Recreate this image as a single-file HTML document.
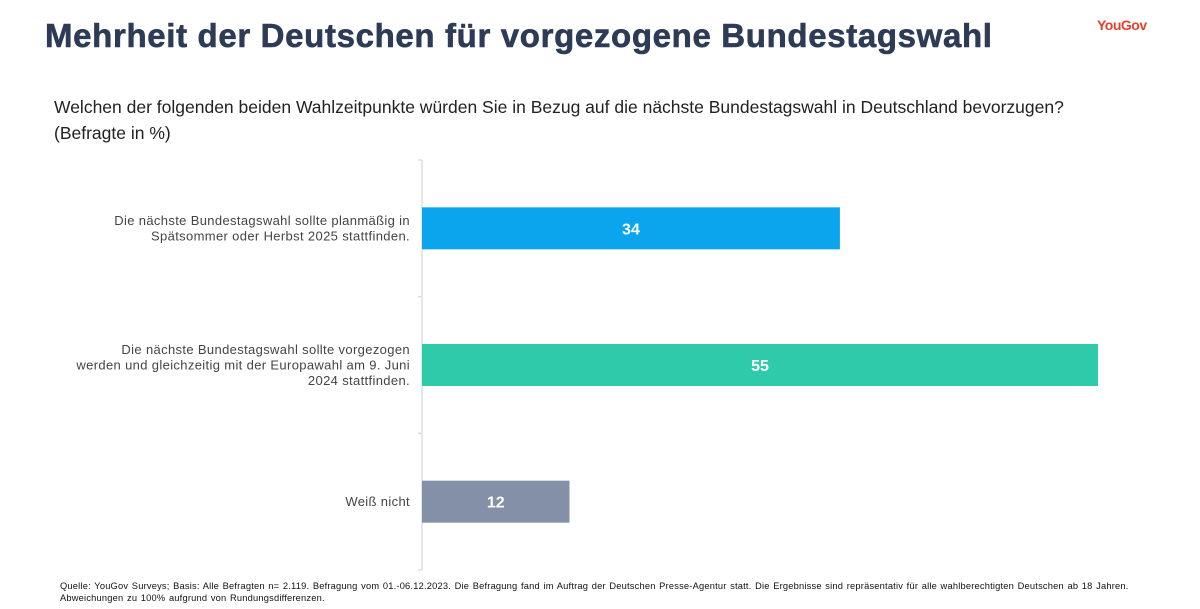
<!DOCTYPE html>
<html><head><meta charset="utf-8"><style>
body{margin:0;background:#fff;width:1200px;height:609px;overflow:hidden;font-family:"Liberation Sans",sans-serif;}
.t{position:absolute;white-space:nowrap;}
</style></head><body>
<div style="position:relative;width:1200px;height:609px">
<div class="t" style="left:45px;top:17px;font-size:33px;font-weight:bold;color:#2e3b56;letter-spacing:0.65px;-webkit-text-stroke:0.6px #2e3b56">Mehrheit der Deutschen für vorgezogene Bundestagswahl</div>
<div class="t" style="left:1097px;top:17px;font-size:14px;font-weight:bold;color:#e7402b;letter-spacing:-0.5px">YouGov</div>
<div class="t" style="left:54px;top:94px;font-size:17.5px;color:#222;line-height:26px">Welchen der folgenden beiden Wahlzeitpunkte würden Sie in Bezug auf die nächste Bundestagswahl in Deutschland bevorzugen?<br>(Befragte in %)</div>
<svg id="chart" class="t" style="left:0;top:0" width="1200" height="609"></svg>
<div class="t" style="left:60px;top:580px;font-size:9.3px;color:#111;line-height:12px;letter-spacing:0.2px;word-spacing:0.8px">Quelle: YouGov Surveys; Basis: Alle Befragten n= 2.119. Befragung vom 01.-06.12.2023. Die Befragung fand im Auftrag der Deutschen Presse-Agentur statt. Die Ergebnisse sind repräsentativ für alle wahlberechtigten Deutschen ab 18 Jahren.<br>Abweichungen zu 100% aufgrund von Rundungsdifferenzen.</div>
</div>
<script>
const categories=[["Die nächste Bundestagswahl sollte planmäßig in","Spätsommer oder Herbst 2025 stattfinden."],["Die nächste Bundestagswahl sollte vorgezogen","werden und gleichzeitig mit der Europawahl am 9. Juni","2024 stattfinden."],["Weiß nicht"]];
const values=[34,55,12];
const colors=["#0aa5ec","#2fcaaa","#8490a7"];
const NS="http://www.w3.org/2000/svg";
const svg=document.getElementById('chart');
const x0=422,xScale=v=>x0+v*(1098-x0)/55;
const top0=160,band=(570-160)/categories.length;
function mk(t,a){const e=document.createElementNS(NS,t);for(const k in a)e.setAttribute(k,a[k]);svg.appendChild(e);return e;}
const ax=mk('line',{x1:x0,x2:x0,y1:top0,y2:570,stroke:'#ddd','stroke-width':1.5});


for(let i=0;i<=categories.length;i++){const y=top0+i*band;const tk=mk('line',{x1:x0-4,x2:x0,y1:y,y2:y,stroke:'#ddd','stroke-width':1.5});

}
categories.forEach((c,i)=>{
 const cy=top0+band*(i+0.5),h=42;
 const r=mk('rect',{x:x0,y:cy-h/2,width:xScale(values[i])-x0,height:h,fill:colors[i]});
 
 
 const v=mk('text',{x:(x0+xScale(values[i]))/2,y:cy+6,'text-anchor':'middle','font-size':16,'font-weight':'bold',fill:'#fff'});
 v.textContent=values[i];
 
 
 const lh=15.5,start=cy-(c.length-1)*lh/2+4.5;
 c.forEach((ln,j)=>{const t=mk('text',{x:410,y:start+j*lh,'text-anchor':'end','font-size':13,fill:'#444','letter-spacing':0.35});t.textContent=ln;
 
 });
});
</script>
</body></html>
